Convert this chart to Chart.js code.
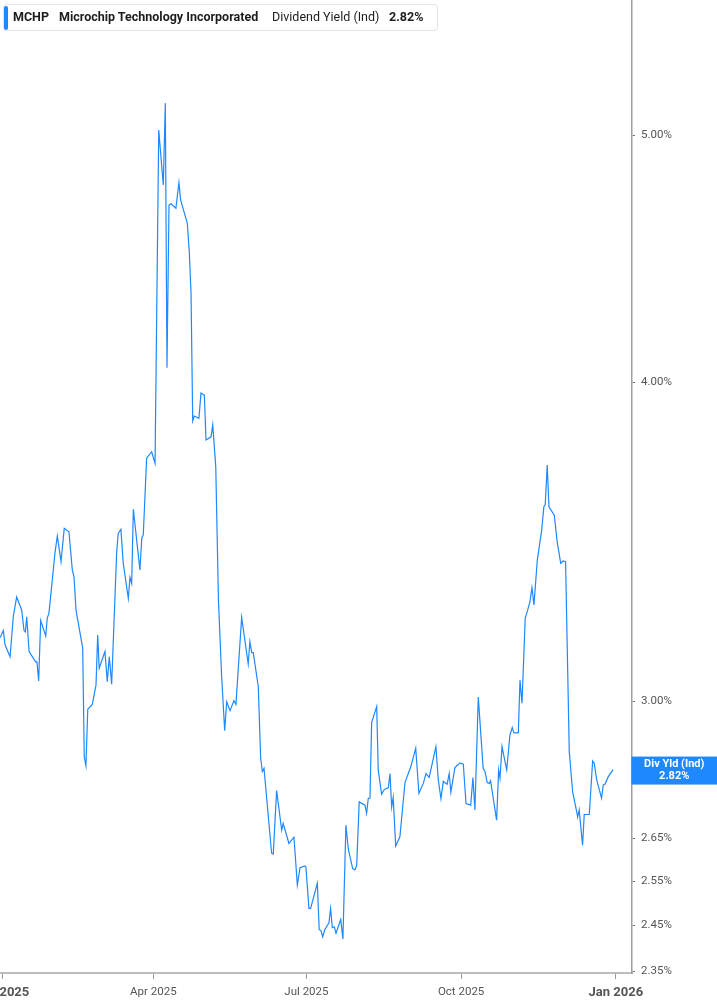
<!DOCTYPE html>
<html>
<head>
<meta charset="utf-8">
<script src="https://cdn.jsdelivr.net/npm/chart.js@4.4.1/dist/chart.umd.min.js"></script>
<style>
  html, body { margin: 0; padding: 0; background: #fff; }
  #wrap { position: relative; width: 717px; height: 1005px; overflow: hidden; }
  #c { position: absolute; left: 0; top: 0; }
  #hdr { position: absolute; left: 3px; top: 4px; width: 433px; height: 25px; border: 1px solid #e3e3e3; border-radius: 4px; background: #fff;
         font-family: Roboto, "Liberation Sans", sans-serif; font-size: 12.5px; color: #1d1d1d; }
  #hdr .bar { position: absolute; left: 0; top: 1px; width: 4px; height: 24px; background: #1e88ff; border-radius: 2px; }
  #hdr span { position: absolute; top: 4px; white-space: nowrap; }
  #hdr .b { font-weight: bold; }
</style>
</head>
<body>
<div id="wrap">
  <canvas id="c" width="717" height="1005"></canvas>
  <div id="hdr">
    <div class="bar"></div>
    <span class="b" style="left:9px">MCHP</span>
    <span class="b" style="left:55px">Microchip Technology Incorporated</span>
    <span style="left:268px">Dividend Yield (Ind)</span>
    <span class="b" style="left:385px">2.82%</span>
  </div>
</div>
<script>
// Days since 1 Jan 2025
const days = [-1.2,0.8,1.8,4.8,6.7,8.7,11.7,13.1,13.9,14.7,16.1,20.0,20.8,21.8,23.0,26.0,26.9,27.9,29.9,31.5,
32.9,35.1,37.0,39.8,41.8,42.8,44.0,48.0,48.9,49.9,51.0,53.7,55.9,56.9,57.8,61.2,62.6,63.8,65.2,68.2,
69.1,70.7,72.1,75.1,76.1,77.1,78.1,82.0,83.1,84.0,86.0,89.0,91.0,93.2,95.9,97.1,98.1,99.3,100.5,103.4,
105.2,106.2,110.2,111.4,112.4,113.4,114.3,117.1,118.3,120.3,121.3,124.3,125.3,127.1,128.7,130.6,132.4,133.6,135.6,137.9,
139.1,142.5,146.4,147.4,148.5,149.4,152.4,153.8,154.8,155.8,160.3,161.3,163.3,166.3,167.2,170.6,173.6,175.6,177.2,180.1,
180.7,182.5,183.5,187.5,188.6,189.7,190.7,192.0,194.4,195.4,196.4,197.6,198.6,201.4,202.7,204.5,205.9,208.5,209.9,210.9,
212.4,215.8,216.8,217.8,218.8,219.8,222.8,223.7,225.7,227.3,229.7,230.7,231.7,232.6,234.1,236.6,239.6,243.2,246.0,247.9,
250.5,252.1,254.0,258.0,259.4,261.0,262.4,264.7,265.9,266.9,269.3,272.3,274.3,275.9,278.7,280.0,281.2,283.2,286.1,287.2,
288.5,289.7,290.5,294.1,295.3,296.1,297.3,300.1,302.0,303.4,304.4,307.0,308.0,309.2,311.1,312.3,313.9,315.1,316.3,318.3,
320.9,322.2,323.0,324.2,325.2,328.4,330.1,332.2,333.7,335.1,337.3,339.3,341.7,342.3,343.2,345.2,346.2,349.2,351.2,352.1,
353.6,356.5,357.5,358.5,360.5,363.4];

// Dividend yield (%)
const yields = [3.176,3.197,3.156,3.122,3.237,3.295,3.257,3.197,3.193,3.237,3.137,3.108,3.108,3.055,3.226,3.181,3.233,3.247,3.346,3.429,
3.482,3.402,3.506,3.495,3.377,3.356,3.257,3.146,2.853,2.830,2.978,2.991,3.044,3.184,3.090,3.137,3.053,3.122,3.046,3.433,
3.490,3.503,3.397,3.291,3.354,3.336,3.567,3.377,3.475,3.485,3.735,3.757,3.718,5.023,4.780,5.146,4.053,4.694,4.699,4.680,
4.790,4.716,4.617,4.494,4.335,3.863,3.880,3.872,3.961,3.954,3.797,3.808,3.849,3.707,3.286,3.067,2.921,2.998,2.974,3.001,
2.991,3.235,3.102,3.165,3.134,3.134,3.039,2.849,2.815,2.823,2.615,2.613,2.767,2.670,2.686,2.638,2.653,2.541,2.581,2.585,
2.583,2.488,2.488,2.545,2.441,2.438,2.425,2.441,2.456,2.488,2.445,2.447,2.433,2.463,2.420,2.682,2.625,2.579,2.576,2.587,
2.739,2.731,2.711,2.748,2.748,2.943,2.985,2.819,2.758,2.770,2.774,2.810,2.726,2.750,2.632,2.654,2.787,2.829,2.875,2.760,
2.785,2.810,2.800,2.879,2.794,2.747,2.790,2.783,2.810,2.763,2.825,2.837,2.834,2.735,2.731,2.800,2.719,3.011,2.823,2.815,
2.787,2.785,2.792,2.694,2.819,2.798,2.879,2.819,2.909,2.929,2.915,2.915,3.057,2.994,3.233,3.252,3.281,3.323,3.272,3.407,
3.501,3.575,3.581,3.712,3.575,3.548,3.464,3.397,3.404,3.402,2.866,2.764,2.715,2.702,2.719,2.634,2.708,2.708,2.842,2.837,
2.794,2.748,2.781,2.783,2.802,2.820];

const xTickDays = [0, 90, 181, 273, 365];
const xTickLabels = ['Jan 2025', 'Apr 2025', 'Jul 2025', 'Oct 2025', 'Jan 2026'];
const yTickValues = [2.35, 2.45, 2.55, 2.65, 3.00, 4.00, 5.00];
const yTickLabels = ['2.35%', '2.45%', '2.55%', '2.65%', '3.00%', '4.00%', '5.00%'];
const lastLabelTitle = 'Div Yld (Ind)';
const lastLabelValue = '2.82%';

const LINE_BLUE = '#1e88ff';
const FONT = 'Roboto, "Liberation Sans", sans-serif';

const points = days.map((d, i) => ({ x: d, y: yields[i] }));

const lastValuePlugin = {
  id: 'lastValue',
  afterDraw(chart) {
    const ctx = chart.ctx;
    const ys = chart.scales.y;
    const yPix = ys.getPixelForValue(yields[yields.length - 1]);
    const left = chart.chartArea.right - 0.5;
    const right = chart.width;
    ctx.save();
    ctx.fillStyle = LINE_BLUE;
    ctx.fillRect(left, yPix - 13, right - left, 28);
    ctx.fillStyle = '#ffffff';
    ctx.font = 'bold 11px ' + FONT;
    ctx.textAlign = 'center';
    ctx.textBaseline = 'middle';
    const cx = (left + right) / 2;
    ctx.fillText(lastLabelTitle, cx, yPix - 5);
    ctx.fillText(lastLabelValue, cx, yPix + 7);
    ctx.restore();
  }
};

new Chart(document.getElementById('c'), {
  type: 'line',
  data: {
    datasets: [{
      data: points,
      borderColor: LINE_BLUE,
      borderWidth: 1.2,
      pointRadius: 0,
      pointHoverRadius: 0,
      tension: 0,
      fill: false
    }]
  },
  options: {
    responsive: false,
    animation: false,
    devicePixelRatio: 1,
    layout: { padding: 0 },
    plugins: { legend: { display: false }, tooltip: { enabled: false } },
    scales: {
      x: {
        type: 'linear',
        min: -1.19,
        max: 374.6,
        afterBuildTicks: (scale) => { scale.ticks = xTickDays.map(v => ({ value: v })); },
        afterFit: (scale) => { scale.height = 32; scale.paddingLeft = 0; scale.paddingRight = 0; },
        grid: { drawOnChartArea: false, drawTicks: true, tickLength: 6, color: '#999', lineWidth: 1 },
        border: { display: true, color: '#bdbdbd', width: 2 },
        ticks: {
          autoSkip: false,
          maxRotation: 0,
          minRotation: 0,
          padding: 6,
          color: '#555',
          font: (ctx) => (ctx.index === 0 || ctx.index === xTickDays.length - 1)
            ? { family: FONT, size: 13, weight: 'bold' }
            : { family: FONT, size: 11.5 },
          callback: (v, i) => xTickLabels[i]
        }
      },
      y: {
        type: 'logarithmic',
        position: 'right',
        min: 2.347,
        max: 5.648,
        afterBuildTicks: (scale) => { scale.ticks = yTickValues.map(v => ({ value: v })); },
        afterFit: (scale) => { scale.width = 85; scale.paddingTop = 0; scale.paddingBottom = 0; },
        grid: { drawOnChartArea: false, drawTicks: true, tickLength: 3, color: '#777', lineWidth: 1 },
        border: { display: true, color: '#9e9e9e', width: 1.5 },
        ticks: {
          autoSkip: false,
          padding: 6,
          color: '#555',
          font: { family: FONT, size: 11.5 },
          callback: (v, i) => yTickLabels[i]
        }
      }
    }
  },
  plugins: [lastValuePlugin]
});
</script>
</body>
</html>
